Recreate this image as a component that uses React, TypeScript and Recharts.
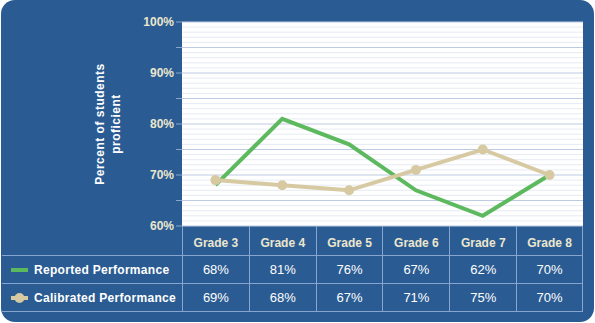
import { CartesianGrid, Line, LineChart, ReferenceLine, XAxis, YAxis } from "recharts";

const grades = ["Grade 3", "Grade 4", "Grade 5", "Grade 6", "Grade 7", "Grade 8"];
const reported = [68, 81, 76, 67, 62, 70];
const calibrated = [69, 68, 67, 71, 75, 70];
const yTicks = [60, 65, 70, 75, 80, 85, 90, 95, 100];
const minorLines = [
  61, 62, 63, 64, 66, 67, 68, 69, 71, 72, 73, 74, 76, 77, 78, 79,
  81, 82, 83, 84, 86, 87, 88, 89, 91, 92, 93, 94, 96, 97, 98, 99,
];
const columnEdges = [0, 1, 2, 3, 4, 5, 6];

const colors = {
  panel: "#2a5c93",
  reported: "#5cb95e",
  calibrated: "#d7c9a1",
  major: "#bccbe2",
  minor: "#e6ebf3",
  rule: "#86a6cf",
  cream: "#ece6cd",
};

const FONT = '"Liberation Sans", Arial, sans-serif';
const PLOT_LEFT = 182;
const PLOT_TOP = 22;
const PLOT_W = 401;
const PLOT_H = 204;
const COL_W = PLOT_W / grades.length;

const chartData = grades.map((grade, i) => ({
  grade,
  x: i + 0.5,
  reported: reported[i],
  calibrated: calibrated[i],
}));

const YLabel = ({ viewBox }: any) => {
  const cy = viewBox.y + viewBox.height / 2;
  const style = { fill: "#ffffff", fontSize: 12, fontWeight: 700, letterSpacing: 0.5, fontFamily: FONT };
  return (
    <g>
      <text x={100} y={cy} textAnchor="middle" dominantBaseline="central" transform={`rotate(-90, 100, ${cy})`} style={style}>
        Percent of students
      </text>
      <text x={116} y={cy} textAnchor="middle" dominantBaseline="central" transform={`rotate(-90, 116, ${cy})`} style={style}>
        proficient
      </text>
    </g>
  );
};

const Swatch = ({ kind }: { kind: "reported" | "calibrated" }) => (
  <svg width={18} height={12} style={{ marginRight: 5, flex: "none" }}>
    {kind === "reported" ? (
      <rect x={0} y={4} width={17} height={4} fill={colors.reported} />
    ) : (
      <>
        <rect x={0} y={4} width={17} height={4} fill={colors.calibrated} />
        <circle cx={8.5} cy={6} r={5} fill={colors.calibrated} />
      </>
    )}
  </svg>
);

const cellBase = {
  width: COL_W,
  boxSizing: "border-box" as const,
  borderLeft: `1px solid ${colors.rule}`,
  display: "flex",
  justifyContent: "center",
};

const DataRow = ({ kind, label, values }: { kind: "reported" | "calibrated"; label: string; values: number[] }) => (
  <div style={{ display: "flex", height: 28, borderTop: `1px solid ${colors.rule}`, boxSizing: "border-box" }}>
    <div
      style={{
        width: PLOT_LEFT - 2,
        display: "flex",
        alignItems: "center",
        paddingLeft: 9,
        boxSizing: "border-box",
        color: "#ffffff",
        fontSize: 12,
        fontWeight: 700,
        letterSpacing: 0.3,
      }}
    >
      <Swatch kind={kind} />
      {label}
    </div>
    {values.map((v, i) => (
      <div
        key={grades[i]}
        style={{
          ...cellBase,
          alignItems: "center",
          color: "#ffffff",
          fontSize: 13,
          borderRight: i === values.length - 1 ? `1px solid ${colors.rule}` : undefined,
        }}
      >
        {v}%
      </div>
    ))}
  </div>
);

export default function App() {
  return (
    <div style={{ position: "absolute", left: 0, top: 0, width: 595, height: 323, background: "#ffffff", fontFamily: FONT }}>
      <div
        style={{
          position: "absolute",
          left: 1,
          top: 0,
          width: 593,
          height: 322,
          background: colors.panel,
          borderRadius: 14,
        }}
      />
      <div style={{ position: "absolute", left: 0, top: 0 }}>
        <LineChart
          width={595}
          height={323}
          data={chartData}
          margin={{ top: PLOT_TOP, right: 595 - PLOT_LEFT - PLOT_W, bottom: 323 - PLOT_TOP - PLOT_H, left: 0 }}
        >
          <CartesianGrid vertical={false} fill="#ffffff" stroke={colors.major} strokeWidth={1} />
          {minorLines.map((v) => (
            <ReferenceLine key={v} y={v} stroke={colors.minor} strokeWidth={1} ifOverflow="visible" />
          ))}
          <XAxis
            dataKey="x"
            type="number"
            domain={[0, 6]}
            ticks={columnEdges}
            orientation="top"
            height={0}
            tickSize={6}
            axisLine={false}
            tickLine={{ stroke: colors.rule }}
            tickFormatter={() => ""}
            interval={0}
          />
          <YAxis
            domain={[60, 100]}
            ticks={yTicks}
            interval={0}
            width={PLOT_LEFT}
            tickSize={6}
            tickMargin={2}
            axisLine={false}
            tickLine={{ stroke: colors.rule }}
            tick={{ fill: colors.cream, fontSize: 12, fontWeight: 700, fontFamily: FONT }}
            tickFormatter={(v: number) => (v % 10 === 0 ? `${v}%` : "")}
            label={{ content: YLabel }}
          />
          <Line
            dataKey="reported"
            stroke={colors.reported}
            strokeWidth={4}
            dot={false}
            strokeLinejoin="miter"
            isAnimationActive={false}
          />
          <Line
            dataKey="calibrated"
            stroke={colors.calibrated}
            strokeWidth={4}
            dot={{ r: 5, fill: colors.calibrated, stroke: "none" }}
            isAnimationActive={false}
          />
        </LineChart>
      </div>
      <div style={{ position: "absolute", left: 2, top: PLOT_TOP + PLOT_H, width: PLOT_LEFT + PLOT_W - 2 }}>
        <div style={{ display: "flex", height: 29 }}>
          <div style={{ width: PLOT_LEFT - 2 }} />
          {grades.map((g, i) => (
            <div
              key={g}
              style={{
                ...cellBase,
                alignItems: "flex-end",
                paddingBottom: 5,
                lineHeight: "14px",
                color: colors.cream,
                fontSize: 12,
                fontWeight: 700,
                borderRight: i === grades.length - 1 ? `1px solid ${colors.rule}` : undefined,
              }}
            >
              {g}
            </div>
          ))}
        </div>
        <DataRow kind="reported" label="Reported Performance" values={reported} />
        <DataRow kind="calibrated" label="Calibrated Performance" values={calibrated} />
        <div style={{ borderTop: `1px solid ${colors.rule}` }} />
      </div>
    </div>
  );
}
